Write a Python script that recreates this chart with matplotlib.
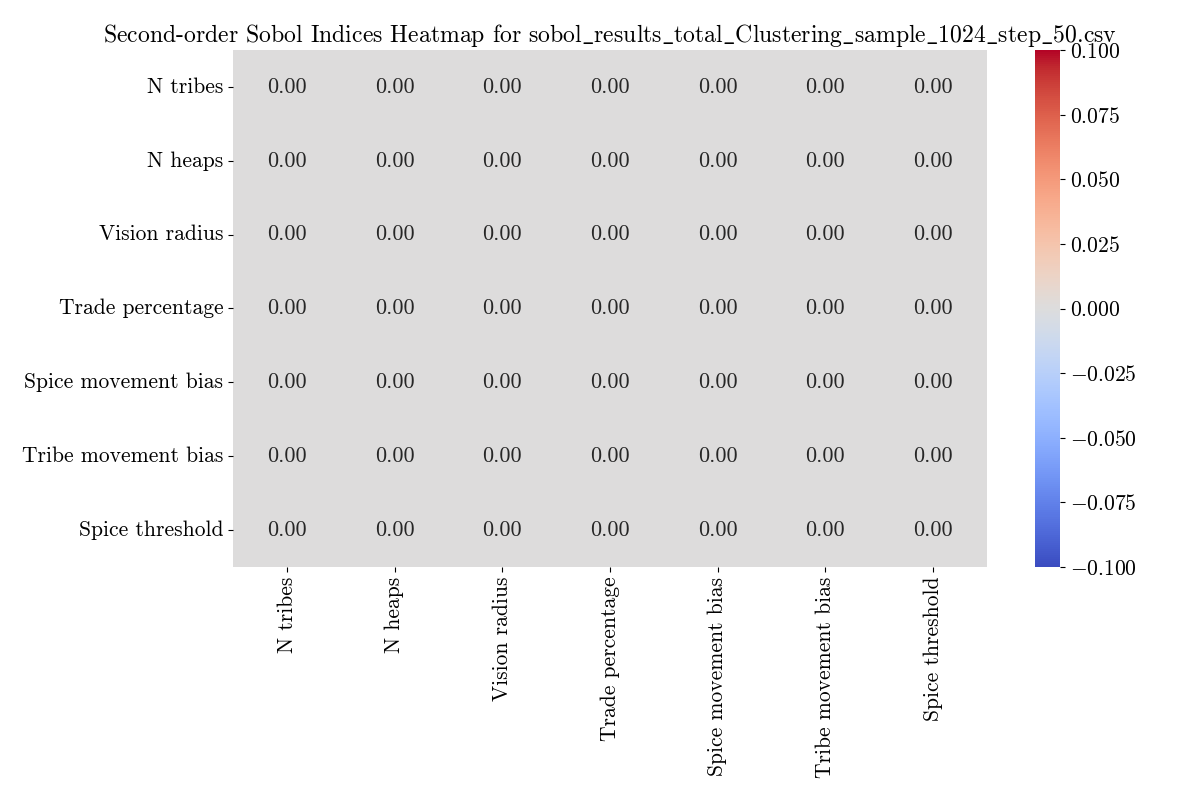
import numpy as np
import matplotlib
matplotlib.use("Agg")
import matplotlib.pyplot as plt
import seaborn as sns

params = ["N tribes", "N heaps", "Vision radius", "Trade percentage",
          "Spice movement bias", "Tribe movement bias", "Spice threshold"]
values = [[0.0] * 7 for _ in range(7)]
filename = "sobol_results_total_Clustering_sample_1024_step_50.csv"

plt.rcParams['font.family'] = ['cmr10', 'DejaVu Serif']
plt.rcParams['mathtext.fontset'] = 'cm'
plt.rcParams['axes.formatter.use_mathtext'] = True
plt.rcParams['axes.unicode_minus'] = True

fig = plt.figure(figsize=(12, 8), dpi=100)
ax = fig.add_axes([233/1200, 1-567/800, (987-233)/1200, (567-50)/800])
cax = fig.add_axes([1035/1200, 1-567/800, 25/1200, (567-50)/800])
sns.heatmap(np.array(values), annot=True, fmt=".2f", cmap="coolwarm",
            vmin=-0.1, vmax=0.1, ax=ax, cbar_ax=cax,
            xticklabels=params, yticklabels=params,
            annot_kws={"fontsize": 16})
ax.tick_params(axis='x', labelsize=15.5, rotation=90)
ax.tick_params(axis='y', labelsize=15.5, rotation=0)
cax.tick_params(labelsize=15.5)
title = "Second-order Sobol Indices Heatmap for " + filename.replace("_", r"$\_$")
ax.set_title(title, fontsize=17.1)
fig.savefig("out.png", dpi=100)
